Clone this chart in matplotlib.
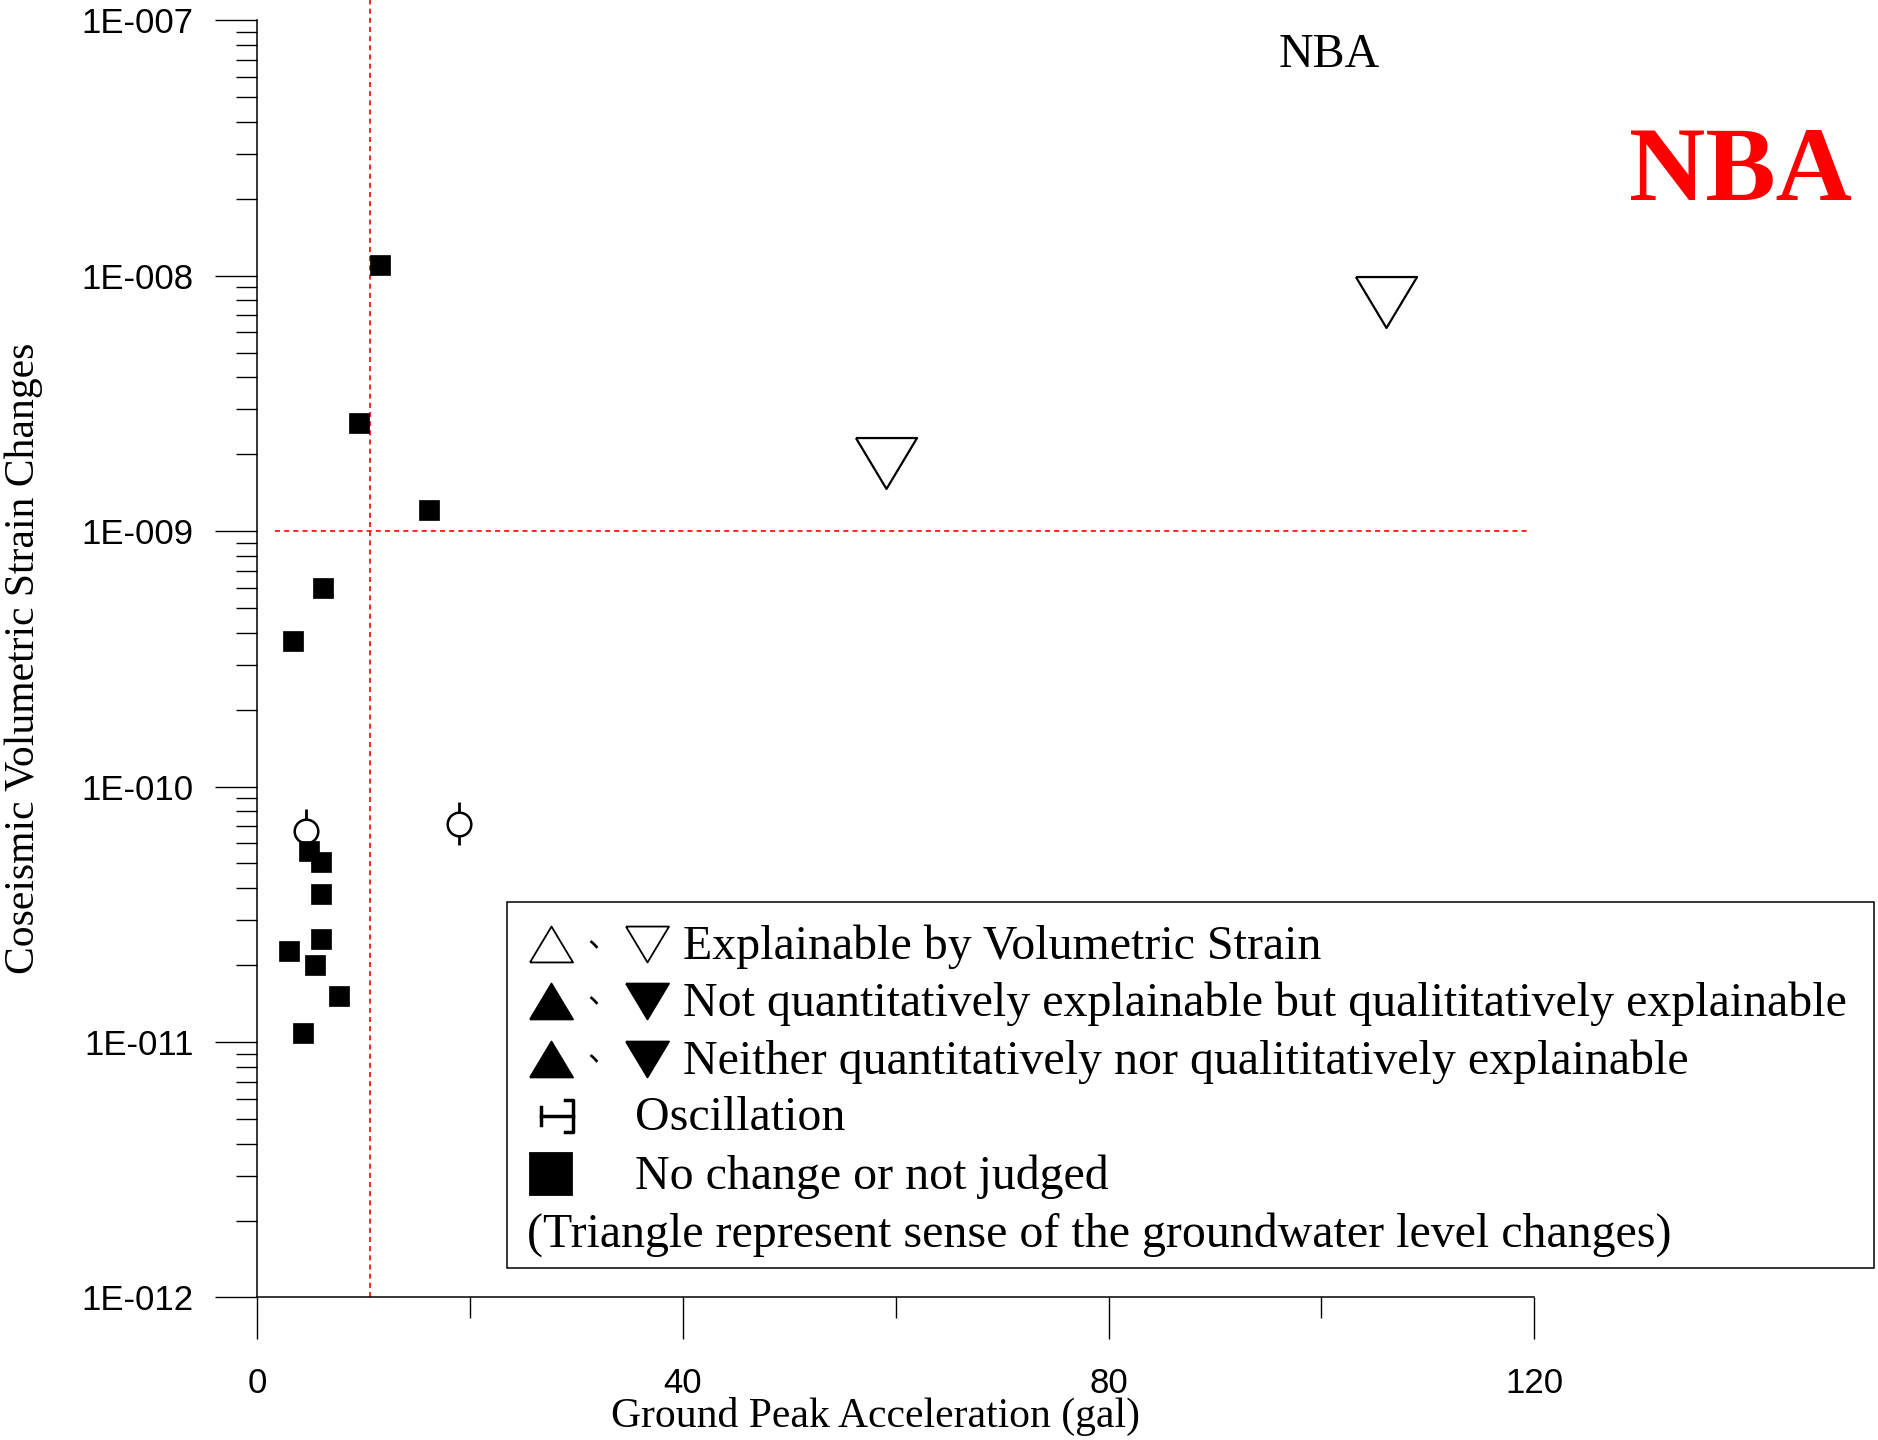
import matplotlib.pyplot as plt
import numpy as np
from matplotlib.lines import Line2D
from matplotlib.patches import Rectangle
from matplotlib.ticker import LogLocator, FixedLocator, FuncFormatter, NullFormatter

# data
sq_gal = [11.5, 9.6, 16.1, 6.2, 3.4, 4.9, 6.0, 6.0, 6.0, 3.0, 5.4, 7.7, 4.3]
sq_strain = [1.10e-8, 2.65e-9, 1.21e-9, 6.0e-10, 3.7e-10, 5.57e-11, 5.05e-11,
             3.79e-11, 2.53e-11, 2.28e-11, 2.01e-11, 1.52e-11, 1.08e-11]
osc_gal = [4.6, 19.0]
osc_strain = [6.7e-11, 7.16e-11]
osc_factor = 1.215
tri_gal = [59.1, 106.1]
tri_strain = [1.84e-9, 7.9e-9]
pga_threshold = 10.6
strain_threshold = 1e-9
x_ticks = [0, 40, 80, 120]
x_minor = [20, 60, 100]
legend_rows = ['Explainable by Volumetric Strain',
               'Not quantitatively explainable but qualititatively explainable',
               'Neither quantitatively nor qualititatively explainable',
               'Oscillation',
               'No change or not judged',
               '(Triangle represent sense of the groundwater level changes)']

serif = 'Liberation Serif'
sans = 'Liberation Sans'

fig = plt.figure(figsize=(18.78, 14.4), dpi=100)
ax = fig.add_axes([0.137, 0.099, 0.68, 0.887])

ax.set_xlim(0, 120)
ax.set_yscale('log')
ax.set_ylim(1e-12, 1e-7)

for s in ['top', 'right']:
    ax.spines[s].set_visible(False)
for s in ['left', 'bottom']:
    ax.spines[s].set_linewidth(1.1)

ax.xaxis.set_major_locator(FixedLocator(x_ticks))
ax.xaxis.set_minor_locator(FixedLocator(x_minor))
ax.yaxis.set_major_locator(LogLocator(base=10, numticks=10))
ax.yaxis.set_minor_locator(LogLocator(base=10, subs=np.arange(2, 10), numticks=20))
ax.yaxis.set_minor_formatter(NullFormatter())
ax.yaxis.set_major_formatter(FuncFormatter(lambda v, p: '1E-%03d' % round(-np.log10(v))))

ax.tick_params(axis='both', which='major', length=30, width=1.0, direction='out', labelsize=25)
ax.tick_params(axis='both', which='minor', length=15, width=1.0, direction='out')
ax.tick_params(axis='x', which='major', pad=20)
ax.tick_params(axis='y', which='major', pad=16)
for lab in ax.get_xticklabels() + ax.get_yticklabels():
    lab.set_fontfamily(sans)

ax.set_xlabel('Ground Peak Acceleration (gal)', fontsize=30, family=serif)
ax.set_ylabel('Coseismic Volumetric Strain Changes', fontsize=30, family=serif)
ax.xaxis.set_label_coords(0.484, -0.093)
ax.xaxis.label.set_va('center')
ax.yaxis.set_label_coords(-0.183, 0.5)
ax.yaxis.label.set_va('center')

# threshold lines
ax.axvline(pga_threshold, 0, 1.016, color='red', lw=1.2, dashes=(3, 2.5), clip_on=False)
ax.hlines(strain_threshold, 1.7, 119.7, color='red', lw=1.2, linestyles=(0, (3, 2.5)))

# oscillation points
osc_strain = np.array(osc_strain)
ax.vlines(osc_gal, osc_strain / osc_factor, osc_strain * osc_factor, color='black', lw=2, zorder=3)
ax.plot(osc_gal, osc_strain, 'o', ms=17, mfc='white', mec='black', mew=1.8, zorder=4)

# no change squares
ax.plot(sq_gal, sq_strain, 's', ms=15, mfc='black', mec='black', mew=0.5, zorder=5)

# explainable (open down triangles)
down_tri = [(-1.2, 1), (1.2, 1), (0, -1), (-1.2, 1)]
up_tri = [(-1.2, -1), (1.2, -1), (0, 1), (-1.2, -1)]
ax.plot(tri_gal, tri_strain, linestyle='none', marker=down_tri, ms=44,
        mfc='white', mec='black', mew=1.6, zorder=5)

# station names
fig.text(0.7077, 0.962, 'NBA', fontsize=34.5, family=serif, ha='center', va='center')
fig.text(0.9265, 0.8785, 'NBA', fontsize=76, family=serif, weight='bold',
         color='red', ha='center', va='center')

# hand-made legend box
fig.patches.append(Rectangle((0.270, 0.1194), 0.728, 0.2542, transform=fig.transFigure,
                             fill=False, edgecolor='black', lw=1.1))
row_y = [0.3444, 0.3049, 0.2646, 0.2250, 0.1847, 0.1444]
leg_fs = 34.5
text_dy = -0.0017


def fig_marker(x, y, marker, ms, filled):
    fig.lines.append(Line2D([x], [y], transform=fig.transFigure, linestyle='none',
                            marker=marker, ms=ms, mec='black', mew=1.3,
                            mfc='black' if filled else 'white'))


for i in range(3):
    filled = i > 0
    fig_marker(0.2934, row_y[i], up_tri, 31, filled)
    fig_marker(0.3445, row_y[i], down_tri, 31, filled)
    fig.text(0.321, row_y[i] + 0.004, '、', fontsize=22, family='Noto Sans CJK JP',
             ha='center', va='center')
    fig.text(0.3637, row_y[i] + text_dy, legend_rows[i], fontsize=leg_fs, family=serif, va='center')

# oscillation symbol
x0, x1 = 541 / 1878, 573 / 1878
yc = row_y[3]
fig.lines.append(Line2D([x0, x0], [yc - 0.006, yc + 0.006], transform=fig.transFigure, color='black', lw=2.5))
fig.lines.append(Line2D([x0, x1], [yc, yc], transform=fig.transFigure, color='black', lw=2.5))
fig.lines.append(Line2D([x1 - 0.004, x1, x1, x1 - 0.004],
                        [yc + 0.011, yc + 0.011, yc - 0.011, yc - 0.011],
                        transform=fig.transFigure, color='black', lw=2.5))
fig.text(0.338, row_y[3] + text_dy, legend_rows[3], fontsize=leg_fs, family=serif, va='center')

fig_marker(0.2934, row_y[4], 's', 30, True)
fig.text(0.338, row_y[4] + text_dy, legend_rows[4], fontsize=leg_fs, family=serif, va='center')
fig.text(0.2806, row_y[5] + text_dy, legend_rows[5], fontsize=leg_fs, family=serif, va='center')

plt.savefig('out.png', dpi=100)
